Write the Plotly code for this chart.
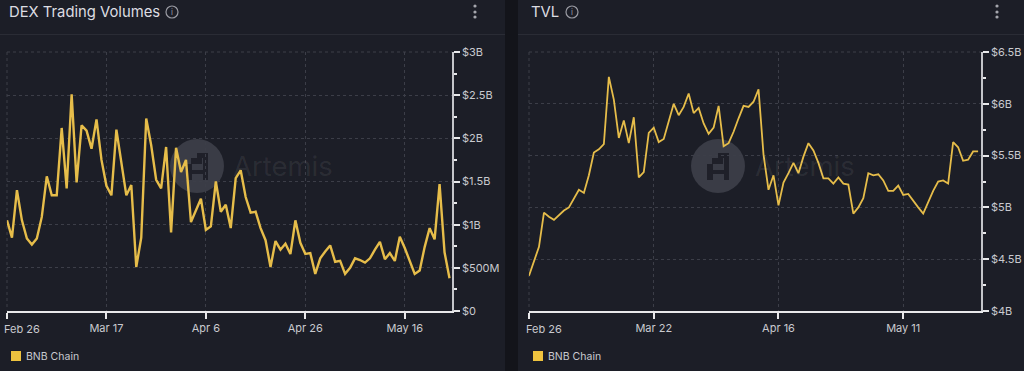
import pandas as pd
import plotly.graph_objects as go

W, H = 1024, 371
BG = "#1c1e27"
GUTTER = "#13141a"
LINE = "#e6bd4a"

dex_values = [1.05,0.85,1.40,1.05,0.84,0.77,0.84,1.09,1.56,1.34,1.34,2.12,1.42,2.51,1.49,2.15,2.09,1.88,2.22,1.75,
              1.45,1.34,2.10,1.69,1.34,1.46,0.51,0.85,2.23,1.92,1.52,1.42,1.90,0.91,1.89,1.61,1.75,1.03,1.17,1.30,
              0.94,0.98,1.50,1.15,1.23,0.96,1.54,1.63,1.32,1.14,1.15,0.96,0.82,0.51,0.81,0.71,0.78,0.66,1.05,0.79,
              0.66,0.67,0.43,0.61,0.69,0.76,0.57,0.58,0.43,0.50,0.61,0.59,0.56,0.61,0.71,0.80,0.60,0.67,0.58,0.86,
              0.73,0.59,0.43,0.47,0.74,0.96,0.83,1.47,0.68,0.38]
tvl_values = [4.34,4.49,4.62,4.95,4.91,4.88,4.93,4.97,5.00,5.09,5.17,5.14,5.31,5.53,5.56,5.61,6.26,6.04,5.67,5.84,
              5.62,5.87,5.29,5.34,5.72,5.77,5.63,5.66,5.84,6.00,5.89,5.97,6.10,5.91,5.96,5.81,5.71,5.77,5.98,5.59,
              5.62,5.73,5.86,5.98,5.97,6.02,6.14,5.51,5.17,5.31,5.02,5.24,5.33,5.43,5.33,5.49,5.62,5.55,5.43,5.28,
              5.28,5.23,5.29,5.23,5.22,4.94,5.00,5.09,5.33,5.31,5.32,5.26,5.16,5.16,5.21,5.12,5.13,5.06,5.00,4.94,
              5.05,5.16,5.25,5.26,5.23,5.63,5.58,5.45,5.46,5.54,5.54]
dex_dates = pd.date_range("2024-02-26", periods=len(dex_values)).strftime("%Y-%m-%d").tolist()
tvl_dates = pd.date_range("2024-02-26", periods=len(tvl_values)).strftime("%Y-%m-%d").tolist()

dex_x_ticks = ["2024-02-26", "2024-03-17", "2024-04-06", "2024-04-26", "2024-05-16"]
dex_x_labels = ["", "Mar 17", "Apr 6", "Apr 26", "May 16"]
tvl_x_ticks = ["2024-02-26", "2024-03-22", "2024-04-16", "2024-05-11"]
tvl_x_labels = ["", "Mar 22", "Apr 16", "May 11"]
dex_y_ticks = [0, 0.5, 1, 1.5, 2, 2.5, 3]
dex_y_labels = ["$0", "$500M", "$1B", "$1.5B", "$2B", "$2.5B", "$3B"]
dex_y_minor = [0.25, 0.75, 1.25, 1.75, 2.25, 2.75]
tvl_y_ticks = [4, 4.5, 5, 5.5, 6, 6.5]
tvl_y_labels = ["$4B", "$4.5B", "$5B", "$5.5B", "$6B", "$6.5B"]
tvl_y_minor = [4.25, 4.75, 5.25, 5.75, 6.25]


def px(x):
    return x / W


def py(y):
    return 1 - y / H


FONT = "Inter, 'Noto Sans', sans-serif"
GRID = "#3c3e48"
fig = go.Figure()
fig.add_trace(go.Scatter(x=dex_dates, y=dex_values, mode="lines", name="BNB Chain", showlegend=False,
                         line=dict(color=LINE, width=2.4), xaxis="x", yaxis="y"))
fig.add_trace(go.Scatter(x=tvl_dates, y=tvl_values, mode="lines", name="BNB Chain", showlegend=False,
                         line=dict(color=LINE, width=1.8), xaxis="x2", yaxis="y2"))


def x_axis(ticks, labels, end, domain, anchor):
    return dict(domain=domain, anchor=anchor, type="date", range=["2024-02-26", end], tickmode="array",
                tickvals=ticks, ticktext=labels, ticks="outside", ticklen=6, tickwidth=2, tickcolor="#e8e8ea",
                showline=True, linecolor="#e8e8ea", linewidth=2, showgrid=True, gridcolor=GRID, griddash="dot",
                gridwidth=1, zeroline=False, automargin=False, tickfont=dict(family=FONT, size=11, color="#c9cacf"))


def y_axis(ticks, labels, minor, rng, anchor):
    return dict(domain=[py(311), py(52)], anchor=anchor, side="right", range=rng, tickmode="array", tickvals=ticks,
                ticktext=labels, ticks="outside", ticklen=6, tickwidth=2, tickcolor="#e8e8ea",
                showline=True, linecolor="#c4c5ca", linewidth=1.5, showgrid=True, gridcolor=GRID, griddash="dot",
                gridwidth=1, zeroline=False, automargin=False, tickfont=dict(family=FONT, size=11, color="#c9cacf"),
                minor=dict(tickmode="array", tickvals=minor, ticks="outside", ticklen=3, tickwidth=2,
                           tickcolor="#e8e8ea", showgrid=False))


shapes = [
    dict(type="rect", xref="paper", yref="paper", x0=px(505), x1=px(518), y0=0, y1=1, fillcolor=GUTTER,
         line_width=0, layer="below"),
    dict(type="line", xref="paper", yref="paper", x0=0, x1=px(505), y0=py(34.5), y1=py(34.5),
         line=dict(color="#2a2c35", width=1), layer="below"),
    dict(type="line", xref="paper", yref="paper", x0=px(518), x1=1, y0=py(34.5), y1=py(34.5),
         line=dict(color="#2a2c35", width=1), layer="below"),
]


def circle(cx, cy, r, **kw):
    return dict(type="circle", xref="paper", yref="paper", x0=px(cx - r), x1=px(cx + r), y0=py(cy + r),
                y1=py(cy - r), **kw)


def rect(x0, y0, x1, y1, color):
    return dict(type="rect", xref="paper", yref="paper", x0=px(x0), x1=px(x1), y0=py(y1), y1=py(y0),
                fillcolor=color, line_width=0, layer="below")


def dotted(x0, y0, x1, y1):
    return dict(type="line", xref="paper", yref="paper", x0=px(x0), x1=px(x1), y0=py(y0), y1=py(y1),
                line=dict(color=GRID, width=1, dash="dot"), layer="below")


annotations = []


def text(x, y, s, size, color, anchor="left"):
    annotations.append(dict(xref="paper", yref="paper", x=px(x), y=py(y), text=s, showarrow=False, xanchor=anchor,
                            yanchor="middle", font=dict(family=FONT, size=size, color=color), borderpad=0,
                            borderwidth=0))


# one panel's furniture: title, info icon, menu dots, watermark, legend swatch, frame edges
def panel(title, title_x, info_x, menu_x, wm_x, wm_text_x, legend_x, first_x, left, right):
    text(title_x, 12, title, 14.8, "#dcdde2")
    shapes.append(circle(info_x, 12, 6, line=dict(color="#9a9ba3", width=1.2), fillcolor="rgba(0,0,0,0)"))
    text(info_x, 12.3, "i", 8, "#9a9ba3", "center")
    for yy in (6, 12, 17):
        shapes.append(circle(menu_x, yy, 1.6, fillcolor="#a5a6ad", line_width=0))
    shapes.append(circle(wm_x, 166, 27, fillcolor="#3a3c46", line_width=0, layer="below"))
    c = "#1f2029"
    ox, oy = wm_x - 11, 153
    for a in [(11, 0, 22, 5), (5, 5, 16, 11), (0, 11, 6, 27), (17, 5, 22, 27), (6, 17, 17, 21)]:
        shapes.append(rect(ox + a[0], oy + a[1], ox + a[2], oy + a[3], c))
    shapes.append(dotted(left, 52, left, 311))
    shapes.append(dotted(left, 52, right, 52))
    text(wm_text_x, 166, "Artemis", 27.5, "rgba(255,255,255,0.07)")
    shapes.append(rect(legend_x, 351, legend_x + 10, 361, "#eec33f"))
    text(legend_x + 14.5, 356.5, "BNB Chain", 10.5, "#c9cacf")
    text(first_x, 329, "Feb 26", 11, "#c9cacf")


panel("DEX Trading Volumes", 9, 172, 475, 197, 233, 11, 4, 7, 452)
panel("TVL", 531, 572, 997, 718, 755, 533, 526, 529, 981)

fig.update_layout(
    width=W, height=H, margin=dict(l=0, r=0, t=0, b=0, pad=0), autosize=False,
    paper_bgcolor=BG, plot_bgcolor="rgba(0,0,0,0)", showlegend=False,
    xaxis=x_axis(dex_x_ticks, dex_x_labels, "2024-05-25 12:00", [px(7), px(452)], "y"),
    yaxis=y_axis(dex_y_ticks, dex_y_labels, dex_y_minor, [0, 3], "x"),
    xaxis2=x_axis(tvl_x_ticks, tvl_x_labels, "2024-05-26 14:00", [px(529), px(981)], "y2"),
    yaxis2=y_axis(tvl_y_ticks, tvl_y_labels, tvl_y_minor, [4, 6.5], "x2"),
    shapes=shapes, annotations=annotations,
)
fig.write_html("out.html", config=dict(displayModeBar=False),
               post_script="document.body.style.margin='0';document.body.style.background='%s';" % BG)
